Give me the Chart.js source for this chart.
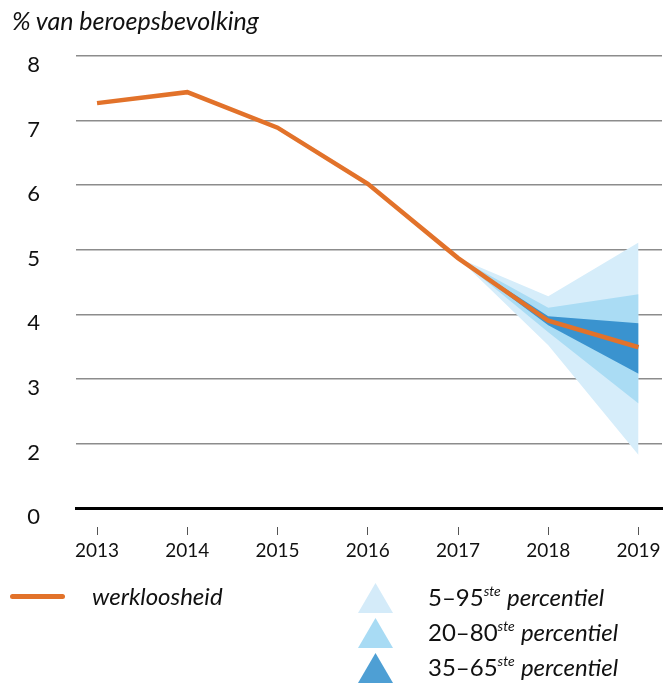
<!DOCTYPE html>
<html>
<head>
<meta charset="utf-8">
<script src="https://cdn.jsdelivr.net/npm/chart.js@4.4.1/dist/chart.umd.min.js"></script>
<style>
  html, body { margin: 0; padding: 0; background: #fff; }
  #wrap { position: relative; width: 668px; height: 686px; font-family: Lato, "Open Sans", sans-serif; color: #111; }
  #c { position: absolute; left: 0; top: 0; }
  .t { position: absolute; white-space: nowrap; line-height: 1; }
  .it { font-style: italic; }
  sup { font-size: 14px; font-style: italic; vertical-align: 10px; line-height: 0; }
  .tri { position: absolute; width: 35px; height: 30px; clip-path: polygon(50% 0, 100% 100%, 0 100%); }
</style>
</head>
<body>
<div id="wrap">
  <canvas id="c" width="668" height="686"></canvas>
  <div class="t it" style="left:12px; top:8px; font-size:25px;">% van beroepsbevolking</div>
  <div style="position:absolute; left:10px; top:594px; width:55px; height:5px; border-radius:2.5px; background:#e2722a;"></div>
  <div class="t it" style="left:92px; top:584px; font-size:24px;">werkloosheid</div>
  <div class="tri" style="left:358px; top:583px; background:#d4ebf9;"></div>
  <div class="tri" style="left:358px; top:618px; background:#a8dbf4;"></div>
  <div class="tri" style="left:358px; top:653px; background:#4e9fd4;"></div>
  <div class="t" style="left:428px; top:585px; font-size:24px;">5–95<sup>ste</sup> <span class="it">percentiel</span></div>
  <div class="t" style="left:428px; top:620px; font-size:24px;">20–80<sup>ste</sup> <span class="it">percentiel</span></div>
  <div class="t" style="left:428px; top:655px; font-size:24px;">35–65<sup>ste</sup> <span class="it">percentiel</span></div>
</div>
<script>
// Data
const years = [2013, 2014, 2015, 2016, 2017, 2018, 2019];
const werkloosheid = [7.27, 7.44, 6.89, 6.02, 4.87, 3.90, 3.49];
const bandYears = [2017, 2018, 2019];
const p5  = [4.87, 3.52, 1.82];
const p95 = [4.87, 4.28, 5.11];
const p20 = [4.87, 3.72, 2.62];
const p80 = [4.87, 4.10, 4.31];
const p35 = [4.87, 3.83, 3.08];
const p65 = [4.87, 3.97, 3.86];
const yTicks = [1, 2, 3, 4, 5, 6, 7, 8];
const yTickLabels = ['0', '2', '3', '4', '5', '6', '7', '8'];

const toPts = (xs, ys) => xs.map((x, i) => ({ x: x, y: ys[i] }));

const LIGHT = '#d6edfa', MID = '#aadcf4', DARK = '#3a93cf', ORANGE = '#e2722a';

const bandDs = (data, color, fill) => ({
  data: data, borderWidth: 0, pointRadius: 0, pointHoverRadius: 0,
  backgroundColor: color, borderColor: color, fill: fill, tension: 0
});

new Chart(document.getElementById('c'), {
  type: 'line',
  data: {
    datasets: [
      { label: 'werkloosheid', data: toPts(years, werkloosheid), borderColor: ORANGE, borderWidth: 4.5,
        pointRadius: 0, fill: false, tension: 0, borderJoinStyle: 'miter', borderCapStyle: 'butt' },
      bandDs(toPts(bandYears, p65), DARK, '+1'),
      bandDs(toPts(bandYears, p35), DARK, false),
      bandDs(toPts(bandYears, p80), MID, '+1'),
      bandDs(toPts(bandYears, p20), MID, false),
      bandDs(toPts(bandYears, p95), LIGHT, '+1'),
      bandDs(toPts(bandYears, p5), LIGHT, false)
    ]
  },
  options: {
    responsive: false,
    animation: false,
    layout: { padding: { left: 0, right: 6, top: 56, bottom: 118 } },
    plugins: { legend: { display: false }, tooltip: { enabled: false }, title: { display: false } },
    scales: {
      x: {
        type: 'linear', min: 2012.767, max: 2019.26,
        afterFit: s => { s.height = 60; },
        border: { display: true, color: '#000', width: 3 },
        grid: { drawOnChartArea: false, drawTicks: true, tickLength: 27, tickColor: '#555', tickWidth: 1,
                tickBorderDash: [0, 17, 9, 200] },
        afterBuildTicks: s => { s.ticks = years.map(v => ({ value: v })); },
        ticks: { includeBounds: false, autoSkip: false, maxRotation: 0, padding: 4, color: '#111',
                 font: { family: 'Lato', size: 19 }, callback: v => String(v) }
      },
      y: {
        type: 'linear', min: 1, max: 8,
        afterFit: s => { s.width = 76; },
        afterBuildTicks: s => { s.ticks = yTicks.map(v => ({ value: v })); },
        border: { display: false },
        grid: { color: '#8c8c8c', lineWidth: 1.4, drawTicks: false },
        ticks: { padding: 36, labelOffset: 9, color: '#111', font: { family: 'Lato', size: 22 },
                 callback: (v) => yTickLabels[yTicks.indexOf(v)] }
      }
    }
  }
});
</script>
</body>
</html>
